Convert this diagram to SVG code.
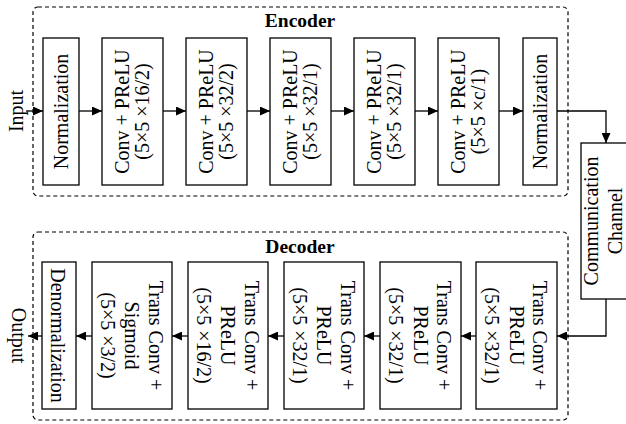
<svg xmlns="http://www.w3.org/2000/svg" width="626" height="424" viewBox="0 0 626 424">
<style>
text{font-family:"Liberation Serif","Times New Roman",serif;font-size:20px;fill:#000;text-anchor:middle}
.title{font-weight:bold;font-size:19.5px}
.box{fill:#fff;stroke:#000;stroke-width:1.3}
.grp{fill:none;stroke:#000;stroke-width:1.2;stroke-dasharray:4,3}
.wire{fill:none;stroke:#000;stroke-width:1.3}
</style>
<defs>
<marker id="ah" markerUnits="userSpaceOnUse" markerWidth="10" markerHeight="9" refX="10" refY="4.5" orient="auto">
<path d="M0,0 L10,4.5 L0,9 z" fill="#000"/>
</marker>
</defs>
<g id="encoder-frame">
<rect class="grp" x="33" y="7" width="535" height="189" rx="5"/>
<text class="title" x="300" y="27">Encoder</text>
</g>
<g id="decoder-frame">
<rect class="grp" x="33" y="232" width="535" height="188" rx="5"/>
<text class="title" x="300" y="253">Decoder</text>
</g>
<g id="input-label"><text transform="translate(0,111) rotate(-90)" x="0" y="22.5">Input</text></g>
<g id="output-label"><text transform="translate(0,335.5) rotate(90)" x="0" y="-11.5">Output</text></g>
<g id="enc-norm"><rect class="box" x="43" y="38" width="36" height="147"/><text transform="translate(0,111.5) rotate(-90)" x="0" y="68">Normalization</text></g>
<g id="enc-conv1"><rect class="box" x="102" y="38" width="61" height="147"/><text transform="translate(0,111.5) rotate(-90)"><tspan x="0" y="128.5">Conv + PReLU</tspan><tspan x="0" y="149">(5×5 ×16/2)</tspan></text></g>
<g id="enc-conv2"><rect class="box" x="186" y="38" width="61" height="147"/><text transform="translate(0,111.5) rotate(-90)"><tspan x="0" y="212.5">Conv + PReLU</tspan><tspan x="0" y="233">(5×5 ×32/2)</tspan></text></g>
<g id="enc-conv3"><rect class="box" x="270" y="38" width="61" height="147"/><text transform="translate(0,111.5) rotate(-90)"><tspan x="0" y="296.5">Conv + PReLU</tspan><tspan x="0" y="317">(5×5 ×32/1)</tspan></text></g>
<g id="enc-conv4"><rect class="box" x="354" y="38" width="61" height="147"/><text transform="translate(0,111.5) rotate(-90)"><tspan x="0" y="380.5">Conv + PReLU</tspan><tspan x="0" y="401">(5×5 ×32/1)</tspan></text></g>
<g id="enc-conv5"><rect class="box" x="438" y="38" width="61" height="147"/><text transform="translate(0,111.5) rotate(-90)"><tspan x="0" y="464.5">Conv + PReLU</tspan><tspan x="0" y="485">(5×5 ×c/1)</tspan></text></g>
<g id="enc-norm2"><rect class="box" x="523" y="38" width="34" height="147"/><text transform="translate(0,111.5) rotate(-90)" x="0" y="547">Normalization</text></g>
<g id="channel"><rect class="box" x="581" y="143" width="50" height="156"/><text transform="translate(0,221) rotate(-90)"><tspan x="0" y="598">Communication</tspan><tspan x="0" y="621.5">Channel</tspan></text></g>
<g id="dec-tconv1"><rect class="box" x="476" y="262" width="81" height="147"/><text transform="translate(0,335.5) rotate(90)"><tspan x="0" y="-533">Trans Conv +</tspan><tspan x="0" y="-509.5">PReLU</tspan><tspan x="0" y="-485">(5×5 ×32/1)</tspan></text></g>
<g id="dec-tconv2"><rect class="box" x="380" y="262" width="81" height="147"/><text transform="translate(0,335.5) rotate(90)"><tspan x="0" y="-437">Trans Conv +</tspan><tspan x="0" y="-413.5">PReLU</tspan><tspan x="0" y="-389">(5×5 ×32/1)</tspan></text></g>
<g id="dec-tconv3"><rect class="box" x="284" y="262" width="80" height="147"/><text transform="translate(0,335.5) rotate(90)"><tspan x="0" y="-340.5">Trans Conv +</tspan><tspan x="0" y="-317">PReLU</tspan><tspan x="0" y="-292.5">(5×5 ×32/1)</tspan></text></g>
<g id="dec-tconv4"><rect class="box" x="188" y="262" width="80" height="147"/><text transform="translate(0,335.5) rotate(90)"><tspan x="0" y="-244.5">Trans Conv +</tspan><tspan x="0" y="-221">PReLU</tspan><tspan x="0" y="-196.5">(5×5 ×16/2)</tspan></text></g>
<g id="dec-tconv5"><rect class="box" x="92" y="262" width="80" height="147"/><text transform="translate(0,335.5) rotate(90)"><tspan x="0" y="-148.5">Trans Conv +</tspan><tspan x="0" y="-125">Sigmoid</tspan><tspan x="0" y="-100.5">(5×5 ×3/2)</tspan></text></g>
<g id="dec-denorm"><rect class="box" x="42" y="262" width="34" height="147"/><text transform="translate(0,335.5) rotate(90)" x="0" y="-51">Denormalization</text></g>
<g id="connectors">
<path class="wire" marker-end="url(#ah)" d="M26,111 H43"/>
<path class="wire" marker-end="url(#ah)" d="M79,111 H102"/>
<path class="wire" marker-end="url(#ah)" d="M163,111 H186"/>
<path class="wire" marker-end="url(#ah)" d="M247,111 H270"/>
<path class="wire" marker-end="url(#ah)" d="M331,111 H354"/>
<path class="wire" marker-end="url(#ah)" d="M415,111 H438"/>
<path class="wire" marker-end="url(#ah)" d="M499,111 H523"/>
<path class="wire" marker-end="url(#ah)" d="M557,111 H606 V143"/>
<path class="wire" marker-end="url(#ah)" d="M606,299 V336 H557"/>
<path class="wire" marker-end="url(#ah)" d="M476,336 H461"/>
<path class="wire" marker-end="url(#ah)" d="M380,336 H364"/>
<path class="wire" marker-end="url(#ah)" d="M284,336 H268"/>
<path class="wire" marker-end="url(#ah)" d="M188,336 H172"/>
<path class="wire" marker-end="url(#ah)" d="M92,336 H76"/>
<path class="wire" marker-end="url(#ah)" d="M42,336 H28"/>
</g>
</svg>
